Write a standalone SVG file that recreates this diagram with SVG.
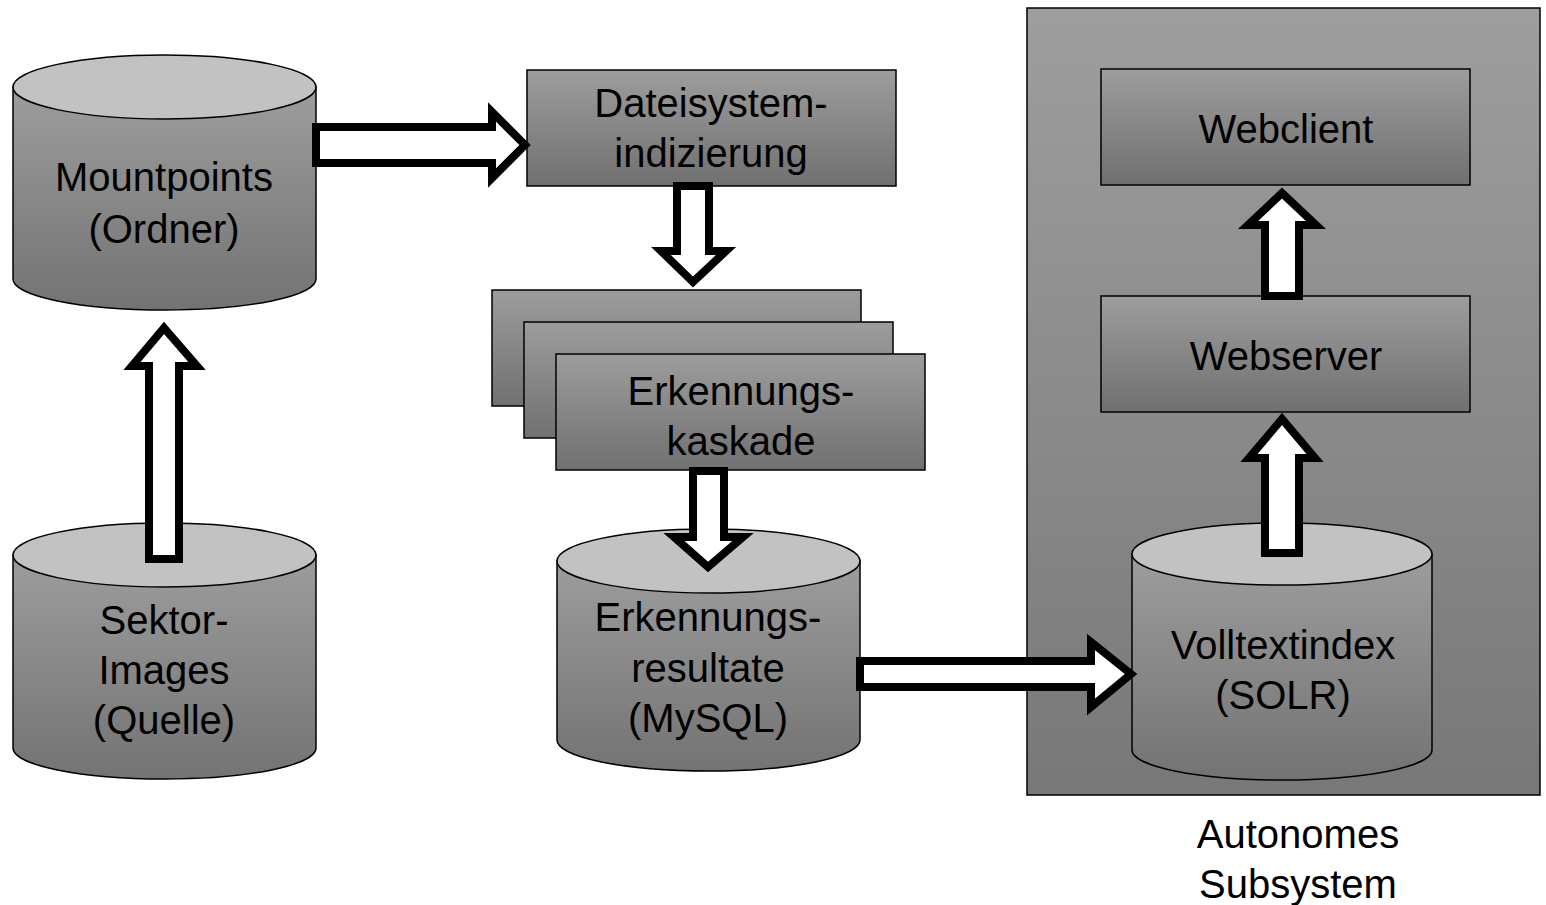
<svg xmlns="http://www.w3.org/2000/svg" width="1546" height="905" viewBox="0 0 1546 905">
<defs>
<linearGradient id="gBody" x1="0" y1="0" x2="0" y2="1">
<stop offset="0" stop-color="#9d9d9d"/>
<stop offset="1" stop-color="#737373"/>
</linearGradient>
<linearGradient id="gBox" x1="0" y1="0" x2="0" y2="1">
<stop offset="0" stop-color="#9d9d9d"/>
<stop offset="1" stop-color="#707070"/>
</linearGradient>
<linearGradient id="gCont" x1="0" y1="0" x2="0" y2="1">
<stop offset="0" stop-color="#9e9e9e"/>
<stop offset="1" stop-color="#787878"/>
</linearGradient>
</defs>
<style>
.body{fill:url(#gBody);stroke:#000;stroke-width:1.5}
.top{fill:#c2c2c2;stroke:#000;stroke-width:1.5}
.box{fill:url(#gBox);stroke:#000;stroke-width:1.5}
.cont{fill:url(#gCont);stroke:#000;stroke-width:1.5}
.arr{fill:#fff;stroke:#000;stroke-width:8;stroke-linejoin:miter;stroke-miterlimit:10}
text{font-family:"Liberation Sans",Arial,sans-serif;font-size:40px;fill:#000;text-anchor:middle}
</style>
<rect id="autonomes-subsystem" class="cont" x="1027" y="8" width="513" height="787"/>
<g id="mountpoints">
<path class="body" d="M13,87 L13,279 A151.5,31 0 0 0 316,279 L316,87 Z"/>
<ellipse class="top" cx="164.5" cy="87" rx="151.5" ry="32"/>
<text x="164" y="191">Mountpoints</text>
<text x="164" y="243">(Ordner)</text>
</g>
<g id="sektor-images">
<path class="body" d="M13,555 L13,748 A151.5,31 0 0 0 316,748 L316,555 Z"/>
<ellipse class="top" cx="164.5" cy="555" rx="151.5" ry="32"/>
<text x="164" y="634">Sektor-</text>
<text x="164" y="684">Images</text>
<text x="164" y="734">(Quelle)</text>
</g>
<g id="dateisystemindizierung">
<rect class="box" x="527" y="70" width="369" height="116"/>
<text x="711" y="117">Dateisystem-</text>
<text x="711" y="167">indizierung</text>
</g>
<g id="erkennungskaskade">
<rect class="box" x="492" y="290" width="369" height="116"/>
<rect class="box" x="524" y="322" width="369" height="116"/>
<rect class="box" x="556" y="354" width="369" height="116"/>
<text x="741" y="405">Erkennungs-</text>
<text x="741" y="455">kaskade</text>
</g>
<g id="erkennungsresultate">
<path class="body" d="M557,561 L557,740 A151.5,31 0 0 0 860,740 L860,561 Z"/>
<ellipse class="top" cx="708.5" cy="561" rx="151.5" ry="32"/>
<text x="708" y="631">Erkennungs-</text>
<text x="708" y="682">resultate</text>
<text x="708" y="732">(MySQL)</text>
</g>
<g id="volltextindex">
<path class="body" d="M1132,554 L1132,750 A150,30 0 0 0 1432,750 L1432,554 Z"/>
<ellipse class="top" cx="1282" cy="554" rx="150" ry="31"/>
<text x="1283" y="659">Volltextindex</text>
<text x="1283" y="709">(SOLR)</text>
</g>
<g id="webserver">
<rect class="box" x="1101" y="296" width="369" height="116"/>
<text x="1286" y="370">Webserver</text>
</g>
<g id="webclient">
<rect class="box" x="1101" y="69" width="369" height="116"/>
<text x="1286" y="143">Webclient</text>
</g>
<text x="1298" y="848">Autonomes</text>
<text x="1298" y="898">Subsystem</text>
<g id="connectors">
<polygon class="arr" points="149,559 149,366 132,366 164,328 197,366 179,366 179,559"/>
<polygon class="arr" points="316,127 492,127 492,112 525,145 492,178 492,163 316,163"/>
<polygon class="arr" points="677,186 677,251 661,251 693,282 726,251 709,251 709,186"/>
<polygon class="arr" points="693,471 693,537 674,537 708,567 743,537 724,537 724,471"/>
<polygon class="arr" points="860,661 1091,661 1091,642 1131,674 1091,707 1091,687 860,687"/>
<polygon class="arr" points="1265,553 1265,458 1249,458 1282,419 1315,458 1299,458 1299,553"/>
<polygon class="arr" points="1265,296 1265,225 1248,225 1282,193 1316,225 1299,225 1299,296"/>
</g>
</svg>
